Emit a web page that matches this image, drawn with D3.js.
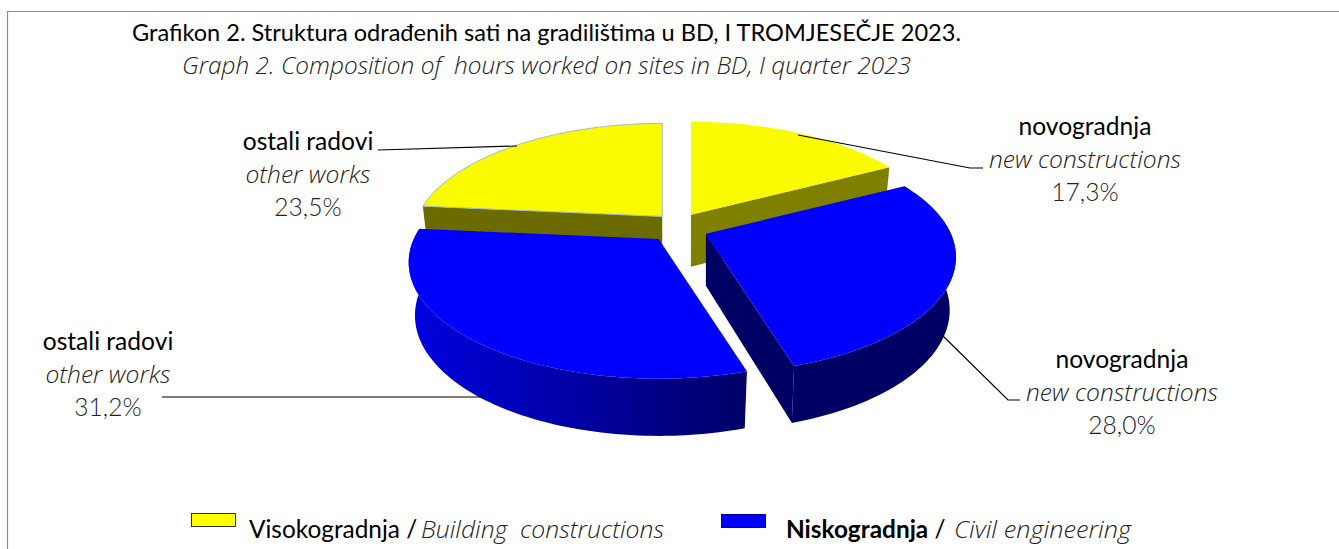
<!DOCTYPE html>
<html>
<head>
<meta charset="utf-8">
<script src="https://cdn.jsdelivr.net/npm/d3@7"></script>
<style>
  html, body { margin: 0; background: #fff; overflow: hidden; }
  text { font-family: Lato, "Open Sans", sans-serif; fill: #000; white-space: pre; }
  .en { font-family: "Open Sans", sans-serif; font-style: italic; font-weight: 300; fill: #222; }
  .pct { font-weight: 300; fill: #222; }
</style>
</head>
<body>
<svg id="chart" width="1339" height="549"></svg>
<script>
// vrijednosti sa grafika, redom od 12 sati u smjeru kazaljke
const sliceNames = ["novogradnja", "novogradnja", "ostali radovi", "ostali radovi"];
const sliceNamesEn = ["new constructions", "new constructions", "other works", "other works"];
const sliceValues = [17.3, 28.0, 31.2, 23.5];
const groupNames = ["Visokogradnja", "Niskogradnja"];
const groupNamesEn = ["Building  constructions", "Civil engineering"];

const svg = d3.select("#chart");
const defs = svg.append("defs");

// okvir
svg.append("path")
  .attr("d", "M7.5,549V11.5H1339")
  .attr("fill", "none")
  .attr("stroke", "#8c8c8c")
  .attr("stroke-width", 1.2);

svg.append("text").attr("x", 132).attr("y", 41).attr("font-size", 24)
  .attr("textLength", 829).attr("lengthAdjust", "spacingAndGlyphs")
  .text("Grafikon 2. Struktura odrađenih sati na gradilištima u BD, I TROMJESEČJE 2023.");
svg.append("text").attr("class", "en").attr("x", 182).attr("y", 74).attr("font-size", 24)
  .attr("textLength", 729).attr("lengthAdjust", "spacingAndGlyphs")
  .text("Graph 2. Composition of  hours worked on sites in BD, I quarter 2023");

// perspektiva pite
const cx = 678.5, cy = 227;
const rx = 245, ry = 111.7, persp = 0.2;
const depth = 52;
const explodeX = [0.1, 0.12, 0.125, 0.1];
const explodeY = [0.13, 0.156, 0.1365, 0.13];

const pie = d3.pie().sort(null).value(d => d)(sliceValues);

const sx = d3.scaleLinear().domain([-1, 1]).range([-rx, rx]);
const sy = d3.scaleLinear().domain([-1, 1]).range([-ry, ry]);

function project(u, v) {
  const w = 1 - persp * v;
  return [sx(u) / w, sy(v) / w];
}
function apexOf(i) {
  const mid = (pie[i].startAngle + pie[i].endAngle) / 2;
  const px = project(explodeX[i] * Math.sin(mid), -explodeX[i] * Math.cos(mid));
  const py = project(explodeY[i] * Math.sin(mid), -explodeY[i] * Math.cos(mid));
  return [cx + px[0], cy + py[1]];
}
function topPoint(i, a) {
  const ap = apexOf(i);
  const p = project(Math.sin(a), -Math.cos(a));
  return [ap[0] + p[0], ap[1] + p[1]];
}
function bottomPoint(i, a) {
  const ap = apexOf(i);
  const v = -Math.cos(a);
  const p = project(Math.sin(a), v);
  return [ap[0] + p[0] * 0.975, ap[1] + p[1] + depth * (1 + 0.1 * v)];
}
function angles(a0, a1) {
  const n = 80;
  return d3.range(n + 1).map(k => a0 + (a1 - a0) * k / n);
}

const line = d3.line();

function topFace(i) {
  const ap = apexOf(i);
  return line([ap].concat(angles(pie[i].startAngle, pie[i].endAngle).map(a => topPoint(i, a)))) + "Z";
}
function outerWall(i, a0, a1) {
  const as = angles(a0, a1);
  return line(as.map(a => topPoint(i, a)).concat(as.slice().reverse().map(a => bottomPoint(i, a)))) + "Z";
}
function cutWall(i, a) {
  const ap = apexOf(i);
  return line([ap, topPoint(i, a), bottomPoint(i, a), [ap[0], ap[1] + depth]]) + "Z";
}

// gradijent za prednji zid plavog dijela
const blueGrad = defs.append("linearGradient").attr("id", "blueSide")
  .attr("gradientUnits", "userSpaceOnUse")
  .attr("x1", 408).attr("x2", 744).attr("y1", 0).attr("y2", 0);
blueGrad.append("stop").attr("offset", 0).attr("stop-color", "#0000e0");
blueGrad.append("stop").attr("offset", 1).attr("stop-color", "#000068");

const chart = svg.append("g");

// ostali radovi, zuti
chart.append("path").attr("d", cutWall(3, pie[3].startAngle)).attr("fill", "#6b6b00");
chart.append("path").attr("d", topFace(3)).attr("fill", "#fafa00")
  .attr("stroke", "#a3bcc4").attr("stroke-width", 1);

// novogradnja, zuti
chart.append("path").attr("d", cutWall(0, pie[0].endAngle)).attr("fill", "#808000");
chart.append("path").attr("d", topFace(0)).attr("fill", "#fafa00");

// ostali radovi, plavi
chart.append("path").attr("d", outerWall(2, pie[2].startAngle, pie[2].endAngle)).attr("fill", "url(#blueSide)");
chart.append("path").attr("d", topFace(2)).attr("fill", "#0000ff");

// novogradnja, plavi
chart.append("path").attr("d", cutWall(1, pie[1].endAngle)).attr("fill", "#000064");
chart.append("path").attr("d", outerWall(1, pie[1].startAngle, pie[1].endAngle)).attr("fill", "#000064");
chart.append("path").attr("d", topFace(1)).attr("fill", "#0000ff");

// linije do oznaka
const leaders = [
  [[798, 135], [970, 168], [983, 168]],
  [[942, 335], [1008, 400], [1020, 400]],
  [[482, 397], [162, 397]],
  [[517, 146], [378, 150]]
];
svg.append("g").selectAll("path")
  .data(leaders)
  .join("path")
  .attr("d", d => line(d))
  .attr("fill", "none")
  .attr("stroke", "#000")
  .attr("stroke-width", 1.2);

// oznake
const labelX = [1085, 1122, 108, 308];
const labelY = [135, 368, 350, 150];
const labels = svg.append("g").attr("text-anchor", "middle").attr("font-size", 24.6);
sliceValues.forEach((v, i) => {
  labels.append("text").attr("x", labelX[i]).attr("y", labelY[i]).text(sliceNames[i]);
  labels.append("text").attr("class", "en").attr("x", labelX[i]).attr("y", labelY[i] + 33).text(sliceNamesEn[i]);
  labels.append("text").attr("class", "pct").attr("x", labelX[i]).attr("y", labelY[i] + 66)
    .text(d3.format(".1f")(v).replace(".", ",") + "%");
});

// legenda
const legendSwatchX = [191, 721];
const legendSwatchY = [513, 514];
const legendFill = ["#ffff00", "#0000ff"];
const legendTextX = [249, 786];
const legendEnX = [421, 954];
const legendEnWidth = [243, 177];
groupNames.forEach((g, i) => {
  svg.append("rect")
    .attr("x", legendSwatchX[i] + 0.5).attr("y", legendSwatchY[i] + 0.5)
    .attr("width", 44).attr("height", 13)
    .attr("fill", legendFill[i])
    .attr("stroke", i === 0 ? "#333" : "#0000a0");
  const t = svg.append("text").attr("x", legendTextX[i]).attr("y", 538).attr("font-size", 24.4);
  t.append("tspan").attr("font-weight", i === 1 ? 700 : 400).text(g);
  t.append("tspan").text(" / ");
  svg.append("text").attr("class", "en").attr("x", legendEnX[i]).attr("y", 538).attr("font-size", 24)
    .attr("textLength", legendEnWidth[i]).attr("lengthAdjust", "spacingAndGlyphs")
    .text(groupNamesEn[i]);
});
</script>
</body>
</html>
